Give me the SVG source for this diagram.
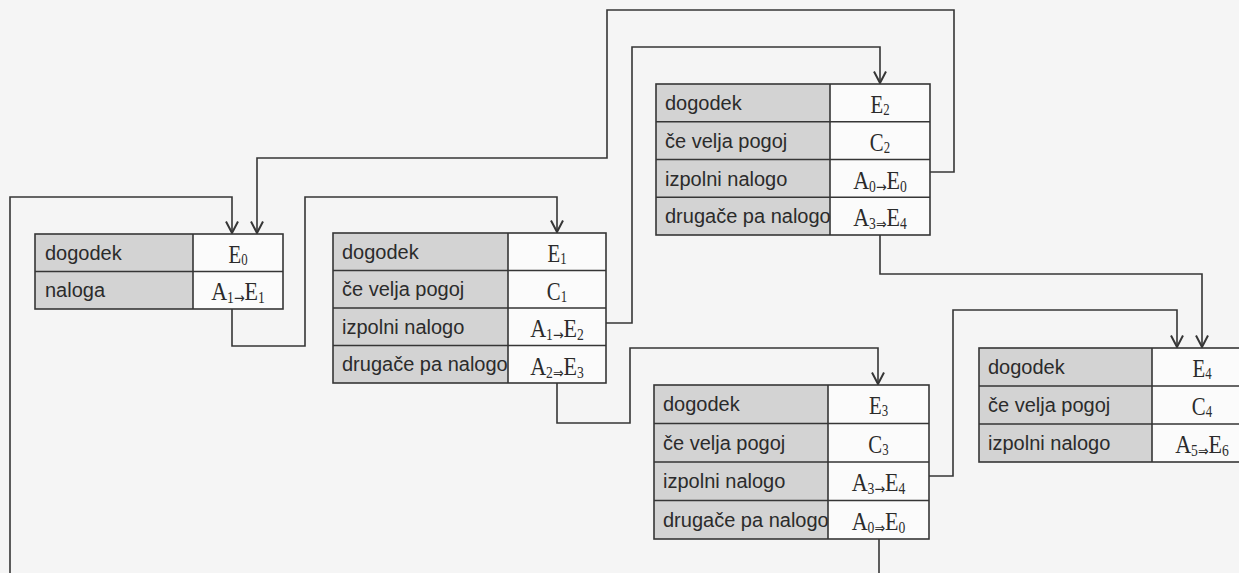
<svg xmlns="http://www.w3.org/2000/svg" width="1239" height="573" viewBox="0 0 1239 573">
  <style>
    .bg { fill: #f5f5f5; }
    .lc { fill: #d3d3d3; }
    .rc { fill: #fbfbfb; }
    .grid { fill: none; stroke: #363636; stroke-width: 1.6; }
    .lbl { font-family: "Liberation Sans", Arial, sans-serif; font-size: 20px; fill: #2b2b2b; }
    .v { font-family: "Liberation Serif", "Times New Roman", serif; font-size: 26px; fill: #2b2b2b; text-anchor: middle; }
    .s { font-size: 16px; }
    .op { font-size: 15px; font-family: "DejaVu Sans", sans-serif; }
    .conn { fill: none; stroke: #363636; stroke-width: 1.6; }
  </style>
  <defs>
    <marker id="arr" viewBox="0 0 14 14" refX="12.5" refY="7" markerWidth="14" markerHeight="14" markerUnits="userSpaceOnUse" orient="auto">
      <path d="M1,1 L12.5,7 L1,13" fill="none" stroke="#363636" stroke-width="2"/>
    </marker>
  </defs>
  <rect class="bg" x="0" y="0" width="1239" height="573"/>

  <g id="connectors">
    <path class="conn" d="M232,309 V346 H305 V197 H557 V232" marker-end="url(#arr)"/>
    <path class="conn" d="M606,323 H632 V47 H880 V83" marker-end="url(#arr)"/>
    <path class="conn" d="M557,383 V423 H630 V348 H878 V384" marker-end="url(#arr)"/>
    <path class="conn" d="M930,172 H954 V10 H607 V158 H257 V233" marker-end="url(#arr)"/>
    <path class="conn" d="M880,235 V274 H1202 V347" marker-end="url(#arr)"/>
    <path class="conn" d="M929,476 H953 V310 H1177 V347" marker-end="url(#arr)"/>
    <path class="conn" d="M879,539 V580"/>
    <path class="conn" d="M10,580 V197 H232 V233" marker-end="url(#arr)"/>
  </g>

  <g id="node-e0">
    <rect class="lc" x="35" y="234" width="158" height="75"/>
    <rect class="rc" x="193" y="234" width="90" height="75"/>
    <rect class="grid" x="35" y="234" width="248" height="75"/>
    <path class="grid" d="M193,234 V309 M35,271.5 H283"/>
    <text class="lbl" x="45" y="259.5">dogodek</text>
    <text class="lbl" x="45" y="297">naloga</text>
    <text class="v" transform="translate(238,263) scale(0.8,1)">E<tspan class="s" dy="2">0</tspan></text>
    <text class="v" transform="translate(238,300) scale(0.85,1)">A<tspan class="s" dy="3">1</tspan><tspan class="op">→</tspan><tspan dy="-3">E</tspan><tspan class="s" dy="3">1</tspan></text>
  </g>

  <g id="node-e1">
    <rect class="lc" x="333" y="233" width="175" height="150"/>
    <rect class="rc" x="508" y="233" width="98" height="150"/>
    <rect class="grid" x="333" y="233" width="273" height="150"/>
    <path class="grid" d="M508,233 V383 M333,270.5 H606 M333,308 H606 M333,345.5 H606"/>
    <text class="lbl" x="342" y="258.5">dogodek</text>
    <text class="lbl" x="342" y="296">če velja pogoj</text>
    <text class="lbl" x="342" y="333.5">izpolni nalogo</text>
    <text class="lbl" x="342" y="371">drugače pa nalogo</text>
    <text class="v" transform="translate(557,262) scale(0.8,1)">E<tspan class="s" dy="2">1</tspan></text>
    <text class="v" transform="translate(557,299.5) scale(0.8,1)">C<tspan class="s" dy="2">1</tspan></text>
    <text class="v" transform="translate(557,337) scale(0.85,1)">A<tspan class="s" dy="3">1</tspan><tspan class="op">→</tspan><tspan dy="-3">E</tspan><tspan class="s" dy="3">2</tspan></text>
    <text class="v" transform="translate(557,374.5) scale(0.85,1)">A<tspan class="s" dy="3">2</tspan><tspan class="op">⇒</tspan><tspan dy="-3">E</tspan><tspan class="s" dy="3">3</tspan></text>
  </g>

  <g id="node-e2">
    <rect class="lc" x="656" y="84" width="174" height="151"/>
    <rect class="rc" x="830" y="84" width="100" height="151"/>
    <rect class="grid" x="656" y="84" width="274" height="151"/>
    <path class="grid" d="M830,84 V235 M656,121.75 H930 M656,159.5 H930 M656,197.25 H930"/>
    <text class="lbl" x="665" y="110">dogodek</text>
    <text class="lbl" x="665" y="147.5">če velja pogoj</text>
    <text class="lbl" x="665" y="185.5">izpolni nalogo</text>
    <text class="lbl" x="665" y="223">drugače pa nalogo</text>
    <text class="v" transform="translate(880,113) scale(0.8,1)">E<tspan class="s" dy="2">2</tspan></text>
    <text class="v" transform="translate(880,150.5) scale(0.8,1)">C<tspan class="s" dy="2">2</tspan></text>
    <text class="v" transform="translate(880,188.5) scale(0.85,1)">A<tspan class="s" dy="3">0</tspan><tspan class="op">→</tspan><tspan dy="-3">E</tspan><tspan class="s" dy="3">0</tspan></text>
    <text class="v" transform="translate(880,226) scale(0.85,1)">A<tspan class="s" dy="3">3</tspan><tspan class="op">⇒</tspan><tspan dy="-3">E</tspan><tspan class="s" dy="3">4</tspan></text>
  </g>

  <g id="node-e3">
    <rect class="lc" x="654" y="385" width="174" height="154"/>
    <rect class="rc" x="828" y="385" width="101" height="154"/>
    <rect class="grid" x="654" y="385" width="275" height="154"/>
    <path class="grid" d="M828,385 V539 M654,423.5 H929 M654,462 H929 M654,500.5 H929"/>
    <text class="lbl" x="663" y="411">dogodek</text>
    <text class="lbl" x="663" y="449.5">če velja pogoj</text>
    <text class="lbl" x="663" y="488">izpolni nalogo</text>
    <text class="lbl" x="663" y="526.5">drugače pa nalogo</text>
    <text class="v" transform="translate(878.5,414) scale(0.8,1)">E<tspan class="s" dy="2">3</tspan></text>
    <text class="v" transform="translate(878.5,452.5) scale(0.8,1)">C<tspan class="s" dy="2">3</tspan></text>
    <text class="v" transform="translate(878.5,491) scale(0.85,1)">A<tspan class="s" dy="3">3</tspan><tspan class="op">→</tspan><tspan dy="-3">E</tspan><tspan class="s" dy="3">4</tspan></text>
    <text class="v" transform="translate(878.5,529.5) scale(0.85,1)">A<tspan class="s" dy="3">0</tspan><tspan class="op">⇒</tspan><tspan dy="-3">E</tspan><tspan class="s" dy="3">0</tspan></text>
  </g>

  <g id="node-e4">
    <rect class="lc" x="979" y="348" width="173" height="114"/>
    <rect class="rc" x="1152" y="348" width="100" height="114"/>
    <rect class="grid" x="979" y="348" width="273" height="114"/>
    <path class="grid" d="M1152,348 V462 M979,386 H1252 M979,424 H1252"/>
    <text class="lbl" x="988" y="374">dogodek</text>
    <text class="lbl" x="988" y="412">če velja pogoj</text>
    <text class="lbl" x="988" y="450">izpolni nalogo</text>
    <text class="v" transform="translate(1202,377) scale(0.8,1)">E<tspan class="s" dy="2">4</tspan></text>
    <text class="v" transform="translate(1202,415) scale(0.8,1)">C<tspan class="s" dy="2">4</tspan></text>
    <text class="v" transform="translate(1202,453) scale(0.85,1)">A<tspan class="s" dy="3">5</tspan><tspan class="op">⇒</tspan><tspan dy="-3">E</tspan><tspan class="s" dy="3">6</tspan></text>
  </g>
</svg>
